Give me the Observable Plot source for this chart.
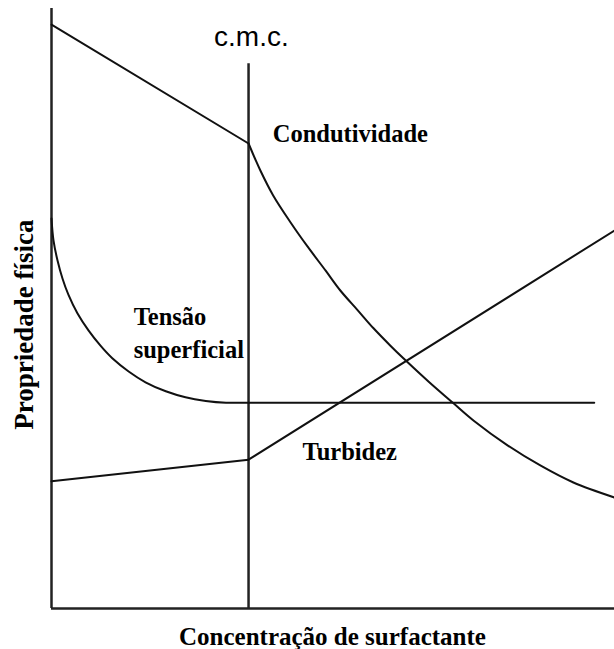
<!DOCTYPE html>
<html>
<head>
<meta charset="utf-8">
<script src="https://cdn.jsdelivr.net/npm/d3@7"></script>
<script src="https://cdn.jsdelivr.net/npm/@observablehq/plot@0.6"></script>
<style>
  html, body { margin: 0; padding: 0; background: #fff; }
  #chart svg { display: block; }
</style>
</head>
<body>
<div id="chart"></div>
<script>
// Concentration (0-100, arbitrary units) and physical property (0-100, arbitrary units)
const cmc = 35;
const cmcTop = 90.8;

// Condutividade: linear before c.m.c., curved decay after
const condPreX = [0, 35];
const condPreY = [97.3, 77.5];
const condPostX = [35, 37.1, 39.4, 42.5, 45.5, 48.7, 51.3, 54.4, 57.2, 60.2, 62.5, 67.0, 71.4, 75.0, 81.0, 86.9, 92.7, 100];
const condPostY = [77.5, 73.0, 68.8, 64.3, 60.3, 56.3, 53.0, 49.7, 46.7, 43.8, 41.7, 37.8, 34.2, 31.3, 27.2, 23.8, 21.0, 18.5];

// Tensão superficial: curved drop before c.m.c., flat after
const tensPreX = [0, 0.36, 1.07, 1.95, 3.0, 4.6, 6.6, 8.7, 10.8, 13.7, 16.7, 20.3, 23.8, 27.4, 31.0, 35];
const tensPreY = [65, 61.3, 58.0, 55.0, 52.3, 49.2, 46.3, 43.8, 41.7, 39.5, 37.7, 36.2, 35.2, 34.6, 34.3, 34.3];
const tensPostX = [35, 96.4];
const tensPostY = [34.3, 34.3];

// Turbidez: slow rise, then steeper rise after c.m.c.
const turbX = [0, 35, 100];
const turbY = [21.2, 24.8, 63];

// Labels
const labelText = ["Condutividade", "Tensão", "superficial", "Turbidez"];
const labelX = [39.3, 14.6, 14.6, 44.6];
const labelY = [77.7, 47.2, 41.8, 24.7];

const xTitle = "Concentração de surfactante";
const yTitle = "Propriedade física";
const cmcLabel = "c.m.c.";

const pts = (xs, ys, key) => xs.map((x, i) => ({x, y: ys[i], key}));
const linearSegs = [
  ...pts(condPreX, condPreY, "condPre"),
  ...pts(tensPostX, tensPostY, "tensPost"),
  ...pts(turbX.slice(0, 2), turbY.slice(0, 2), "turbPre"),
  ...pts(turbX.slice(1), turbY.slice(1), "turbPost")
];
const curvedCond = pts(condPostX, condPostY, "condPost");
const curvedTens = pts(tensPreX, tensPreY, "tensPre");
const labels = labelText.map((t, i) => ({t, x: labelX[i], y: labelY[i]}));

const serif = "'Liberation Serif', 'Times New Roman', serif";

const chart = Plot.plot({
  width: 614,
  height: 649,
  marginLeft: 51,
  marginRight: 0,
  marginTop: 8,
  marginBottom: 41,
  x: {domain: [0, 100], axis: null},
  y: {domain: [0, 100], axis: null},
  style: {background: "#fff", overflow: "visible"},
  marks: [
    // axes
    Plot.ruleX([0], {y1: 0, y2: 100, stroke: "#222", strokeWidth: 2.5}),
    Plot.ruleY([0], {x1: 0, x2: 100, stroke: "#222", strokeWidth: 2.5}),
    // c.m.c. line
    Plot.ruleX([cmc], {y1: 0, y2: cmcTop, stroke: "#222", strokeWidth: 2.5}),
    // series
    Plot.line(linearSegs, {x: "x", y: "y", z: "key", stroke: "#111", strokeWidth: 2}),
    Plot.line(curvedCond, {x: "x", y: "y", stroke: "#111", strokeWidth: 2, curve: "catmull-rom"}),
    Plot.line(curvedTens, {x: "x", y: "y", stroke: "#111", strokeWidth: 2, curve: "catmull-rom"}),
    // labels
    Plot.text(labels, {x: "x", y: "y", text: "t", textAnchor: "start", lineAnchor: "bottom",
      fontFamily: serif, fontWeight: "bold", fontSize: 24.5, fill: "#000"}),
    Plot.text([cmcLabel], {x: cmc + 0.5, y: 93.7, text: d => d, textAnchor: "middle", lineAnchor: "bottom",
      fontFamily: "'Liberation Sans', Arial, sans-serif", fontSize: 28, fill: "#000"}),
    Plot.text([xTitle], {x: 49.9, y: -6.0, text: d => d, textAnchor: "middle", lineAnchor: "bottom",
      fontFamily: serif, fontWeight: "bold", fontSize: 25, fill: "#000"}),
    Plot.text([yTitle], {x: -3.2, y: 47.3, text: d => d, textAnchor: "middle", lineAnchor: "bottom", rotate: -90,
      fontFamily: serif, fontWeight: "bold", fontSize: 27, fill: "#000"})
  ]
});
document.getElementById("chart").appendChild(chart);
</script>
</body>
</html>
